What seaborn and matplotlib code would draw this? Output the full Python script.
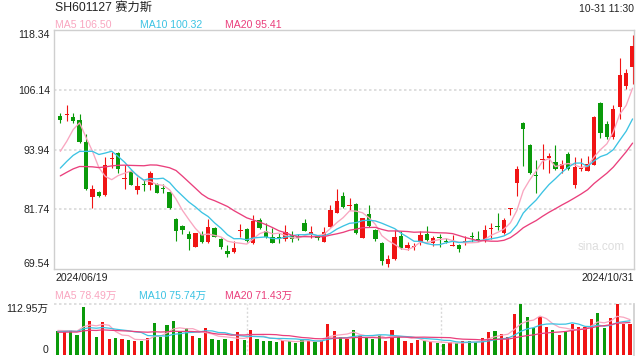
import numpy as np
import pandas as pd
import matplotlib
matplotlib.use("Agg")
import matplotlib.pyplot as plt
import seaborn as sns

# ---------------- data ----------------
title_text = "SH601127 赛力斯"
time_text = "10-31 11:30"
start_label = "2024/06/19"
end_label = "2024/10/31"
price_ticks = [118.34, 106.14, 93.94, 81.74, 69.54]
price_tick_labels = ["118.34", "106.14", "93.94", "81.74", "69.54"]
vol_max_label = "112.95万"
vol_max = 112.95
ma_price_labels = ["MA5 106.50", "MA10 100.32", "MA20 95.41"]
ma_vol_labels = ["MA5 78.49万", "MA10 75.74万", "MA20 71.43万"]

opens = [100.7, 101.0, 100.6, 100.0, 95.5, 84.3, 85.2, 84.7, 91.9, 93.3,
         88.0, 89.6, 85.7, 86.9, 86.6, 86.9, 86.0, 85.2, 79.8, 78.3,
         76.7, 74.1, 76.6, 75.1, 78.0, 75.7, 73.3, 73.1, 77.2, 77.7,
         74.9, 79.5, 77.2, 76.0, 76.1, 75.7, 76.5, 76.1, 79.0, 76.5,
         76.3, 75.1, 78.2, 81.0, 84.5, 82.4, 82.8, 75.9, 80.8, 77.6,
         74.9, 70.5, 71.6, 76.3, 73.8, 74.1, 75.1, 76.7, 74.9, 76.1,
         75.3, 74.3, 74.4, 75.0, 76.2, 75.7, 75.4, 77.7, 78.3, 76.9,
         81.7, 87.2, 99.4, 94.9, 88.8, 91.7, 92.2, 91.4, 89.9, 93.1,
         86.7, 90.0, 89.5, 90.8, 103.5, 99.2, 96.4, 102.6, 107.0, 110.8]
highs = [101.4, 103.0, 101.3, 101.1, 97.1, 86.7, 85.4, 92.5, 93.5, 93.5,
         90.8, 89.7, 88.3, 87.7, 89.5, 87.1, 86.9, 85.4, 80.0, 78.6,
         77.4, 76.9, 77.2, 79.8, 78.2, 75.8, 74.4, 75.2, 78.7, 77.9,
         80.6, 79.9, 78.9, 78.0, 76.8, 78.5, 77.2, 76.7, 79.7, 78.3,
         76.5, 78.2, 82.6, 85.9, 85.3, 84.1, 83.0, 80.0, 82.6, 77.8,
         75.0, 72.4, 77.5, 77.2, 75.1, 74.8, 77.3, 78.3, 76.3, 76.6,
         75.9, 76.5, 74.6, 76.3, 77.1, 77.2, 78.5, 78.9, 81.0, 79.9,
         81.9, 90.5, 99.5, 95.1, 91.8, 95.1, 93.3, 94.9, 91.8, 93.4,
         92.5, 92.3, 92.7, 100.7, 103.7, 99.8, 103.1, 112.7, 110.4, 117.3]
lows = [99.4, 99.7, 99.4, 95.3, 85.7, 81.9, 84.3, 84.5, 90.1, 89.1,
        85.8, 86.6, 84.8, 85.4, 85.7, 85.0, 85.0, 81.8, 75.3, 76.7,
        73.5, 74.0, 74.9, 74.8, 76.0, 73.6, 72.0, 72.9, 76.1, 75.1,
        74.7, 77.8, 75.9, 74.8, 74.9, 75.3, 75.0, 75.4, 77.2, 75.9,
        75.5, 75.1, 78.1, 80.9, 81.9, 81.6, 76.6, 75.8, 78.2, 75.3,
        70.3, 70.0, 71.3, 73.7, 73.5, 73.4, 74.4, 75.3, 74.2, 74.1,
        74.8, 74.2, 73.0, 74.4, 75.1, 75.3, 75.1, 75.6, 77.5, 76.7,
        80.6, 84.5, 90.5, 89.0, 85.1, 89.9, 89.1, 89.8, 89.1, 89.8,
        86.0, 89.5, 89.5, 90.7, 96.3, 96.0, 96.0, 100.2, 106.2, 107.4]
closes = [100.0, 101.2, 99.7, 95.4, 85.8, 85.8, 84.5, 90.7, 92.1, 90.0,
          88.2, 86.7, 86.5, 86.6, 89.1, 85.1, 85.8, 81.9, 77.2, 77.5,
          75.7, 76.9, 75.1, 78.2, 76.1, 74.1, 72.6, 73.8, 77.4, 75.2,
          79.4, 78.0, 76.1, 74.9, 75.9, 77.1, 75.6, 75.8, 77.4, 77.1,
          75.8, 77.1, 81.6, 83.4, 82.3, 82.7, 76.8, 79.9, 78.3, 75.6,
          71.2, 71.6, 76.1, 73.9, 74.5, 74.2, 76.5, 75.4, 75.8, 75.9,
          75.1, 74.5, 73.7, 75.2, 76.0, 75.5, 77.5, 77.9, 78.1, 79.5,
          81.9, 90.0, 98.1, 89.1, 88.6, 91.9, 92.7, 89.9, 91.0, 89.9,
          90.4, 90.2, 91.0, 100.5, 97.4, 96.4, 102.3, 109.1, 109.5, 115.0]
# volume in 万 (10k shares)
volumes = [54, 50, 56, 45, 107, 75, 40, 72, 35, 38,
           36, 34, 30, 32, 38, 70, 40, 66, 75, 50,
           59, 42, 38, 59, 35, 34, 36, 30, 50, 34,
           56, 36, 32, 30, 28, 34, 30, 26, 36, 32,
           28, 34, 68, 54, 40, 36, 56, 42, 38, 36,
           44, 32, 56, 40, 30, 26, 34, 30, 28, 26,
           24, 28, 26, 30, 32, 28, 38, 51, 54, 47,
           40, 90, 113, 84, 60, 84, 62, 56, 45, 50,
           69, 62, 62, 79, 94, 59, 83, 113, 69, 68]
# closes / volumes before the visible window (estimated from the MA lines)
pre_closes = [86.5, 85.8, 85.6, 86.2, 86.8, 87.5, 88.0, 87.9, 87.6, 87.7,
              87.6, 87.3, 87.3, 85.7, 85.7, 91.0, 87.7, 88.4, 100.7]
pre_volumes = [50, 48, 46, 52, 50, 48, 46, 50, 52, 48,
               46, 50, 52, 48, 50, 52, 56, 50, 60]

# ---------------- styling ----------------
RED = "#f01414"
GREEN = "#0a9a0a"
C_MA5 = "#f9a6c0"
C_MA10 = "#3cc3e3"
C_MA20 = "#ea3f7c"
GRID = "#d9d9d9"
BORDER = "#cfcfcf"
TXT = "#222222"

sns.set_theme(style="white")
plt.rcParams["font.family"] = ["Liberation Sans", "Noto Sans CJK SC", "DejaVu Sans"]

W, H = 640, 360
fig = plt.figure(figsize=(6.4, 3.6), dpi=100)
fig.patch.set_facecolor("white")

def fx(px):
    return px / W

def fy(py):
    return 1 - py / H

L, R = 54, 634
ax = fig.add_axes([fx(L), fy(269), fx(R - L), 239 / H])
axv = fig.add_axes([fx(L), fy(355), fx(R - L), 51 / H])

n = len(closes)
idx = np.arange(n)
df = pd.DataFrame({"i": idx, "open": opens, "high": highs, "low": lows,
                   "close": closes, "vol": volumes})
df["up"] = df["close"] >= df["open"]
df["color"] = np.where(df["up"], RED, GREEN)

full_c = pd.Series(pre_closes + closes)
full_v = pd.Series(pre_volumes + volumes)
np_pre = len(pre_closes)
for k in (5, 10, 20):
    df[f"ma{k}"] = full_c.rolling(k).mean().iloc[np_pre:].to_numpy()
    df[f"vma{k}"] = full_v.rolling(k).mean().iloc[np_pre:].to_numpy()

xl = (-0.98, 89.22)

# ---- price panel ----
for v in price_ticks[1:-1]:
    ax.axhline(v, color=GRID, lw=1.2, ls=(0, (1.5, 1.5)), zorder=0)

ax.vlines(df["i"], df["low"], df["high"], colors=df["color"], lw=0.8, zorder=2)
body_bottom = np.minimum(df["open"], df["close"])
body_h = np.maximum(np.abs(df["close"] - df["open"]), 0.22)
ax.bar(df["i"], body_h, bottom=body_bottom, width=0.68, color=df["color"],
       linewidth=0, zorder=3)

sns.lineplot(data=df, x="i", y="ma5", ax=ax, color=C_MA5, lw=0.95, zorder=4)
sns.lineplot(data=df, x="i", y="ma10", ax=ax, color=C_MA10, lw=0.95, zorder=4)
sns.lineplot(data=df, x="i", y="ma20", ax=ax, color=C_MA20, lw=0.95, zorder=4)

ax.set_xlim(*xl)
ax.set_ylim(price_ticks[-1], price_ticks[0])
ax.set_xticks([])
ax.set_yticks(price_ticks)
ax.set_yticklabels(price_tick_labels, fontsize=7.6, color=TXT)
ax.tick_params(axis="y", length=0, pad=3)
labs = ax.get_yticklabels()
labs[0].set_va("top")
labs[-1].set_va("bottom")
ax.set_xlabel("")
ax.set_ylabel("")
for s in ax.spines.values():
    s.set_color(BORDER)
    s.set_linewidth(1)

ax.text(0.985, 0.09, "sina.com", transform=ax.transAxes, ha="right", va="center",
        fontsize=8.5, color="#dddddd", zorder=1)

# ---- volume panel ----
axv.bar(df["i"] - 0.4, df["vol"], width=0.5, color=df["color"], linewidth=0, zorder=2)
sns.lineplot(data=df, x=df["i"] - 0.4, y="vma5", ax=axv, color=C_MA5, lw=0.9, zorder=3)
sns.lineplot(data=df, x=df["i"] - 0.4, y="vma10", ax=axv, color=C_MA10, lw=0.9, zorder=3)
sns.lineplot(data=df, x=df["i"] - 0.4, y="vma20", ax=axv, color=C_MA20, lw=0.9, zorder=3)
axv.set_xlim(*xl)
axv.set_ylim(0, vol_max)
axv.axhline(vol_max, color=GRID, lw=1.2, ls=(0, (1.5, 1.5)), zorder=0, clip_on=False)
for frac in (1 / 3, 2 / 3):
    axv.axvline(xl[0] + frac * (xl[1] - xl[0]), color=GRID, lw=1, ls=(0, (1.5, 1.5)), zorder=0)
axv.set_xticks([])
axv.set_yticks([vol_max, 0])
axv.set_yticklabels([vol_max_label, "0"], fontsize=7.6, color=TXT)
axv.tick_params(axis="y", length=0, pad=4)
vl = axv.get_yticklabels()
vl[0].set_va("top")
vl[1].set_va("bottom")
axv.set_xlabel("")
axv.set_ylabel("")
for name, s in axv.spines.items():
    s.set_visible(name == "right")
    s.set_color(BORDER)

# ---- texts ----
fig.text(fx(55), fy(7.5), title_text, fontsize=8.8, color=TXT, ha="left", va="center")
fig.text(fx(634), fy(8.5), time_text, fontsize=7.5, color=TXT, ha="right", va="center")
for x0, t, c in zip([55, 140, 225], ma_price_labels, [C_MA5, C_MA10, C_MA20]):
    fig.text(fx(x0), fy(24.5), t, fontsize=7.6, color=c, ha="left", va="center")
fig.text(fx(55), fy(278), start_label, fontsize=7.6, color=TXT, ha="left", va="center")
fig.text(fx(634), fy(278), end_label, fontsize=7.6, color=TXT, ha="right", va="center")
for x0, t, c in zip([55, 139, 225], ma_vol_labels, [C_MA5, C_MA10, C_MA20]):
    fig.text(fx(x0), fy(295.5), t, fontsize=7.6, color=c, ha="left", va="center")

fig.savefig("out.png", dpi=100, facecolor="white")
